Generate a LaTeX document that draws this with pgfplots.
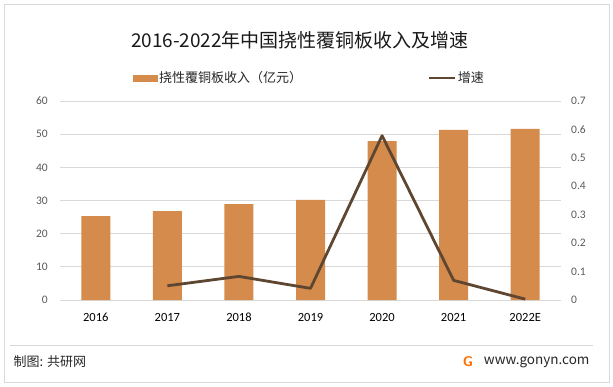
\documentclass[border=0pt]{standalone}
\usepackage{pgfplots}
\pgfplotsset{compat=1.18}
\usepackage{fontspec}
\setmainfont{Carlito}
\newfontfamily\cjk{Noto Sans CJK SC}
\definecolor{barc}{HTML}{D48B4C}
\definecolor{linec}{HTML}{5E4631}
\definecolor{gridc}{HTML}{D9D9D9}
\definecolor{tickc}{HTML}{595959}
\begin{document}
\begin{tikzpicture}[x=1pt,y=1pt]
\path[use as bounding box] (0,0) rectangle (613,386);
\draw[gridc, line width=0.8pt] (4,4) rectangle (609,382);
\node[font=\cjk\fontsize{19}{19}\selectfont, text=black!90, anchor=center] at (300,346) {2016-2022年中国挠性覆铜板收入及增速};
\begin{axis}[
  at={(60pt,86pt)}, anchor=south west, scale only axis, width=501pt, height=199pt,
  xmin=-0.5, xmax=6.5, ymin=0, ymax=60,
  ytick={0,10,20,30,40,50,60}, xtick={0,1,2,3,4,5,6},
  xticklabels={2016,2017,2018,2019,2020,2021,2022E},
  ymajorgrids, grid style={gridc, line width=0.8pt},
  axis line style={draw=none}, tick style={draw=none}, major tick length=0pt,
  /pgf/number format/assume math mode=true,
  yticklabel style={text=tickc, font=\fontsize{11.5}{11.5}\selectfont, inner sep=0pt, anchor=east, xshift=-12pt},
  xticklabel style={text=black, font=\fontsize{12.5}{12.5}\selectfont, inner sep=0pt, anchor=north, yshift=-13pt},
]
\addplot[ybar, bar width=29pt, fill=barc, draw=none] coordinates {(0,25.3)(1,26.8)(2,28.9)(3,30.2)(4,47.9)(5,51.3)(6,51.6)};
\end{axis}
\begin{axis}[
  at={(60pt,86pt)}, anchor=south west, scale only axis, width=501pt, height=199pt,
  xmin=-0.5, xmax=6.5, ymin=0, ymax=0.7,
  ytick={0,0.1,0.2,0.3,0.4,0.5,0.6,0.7},
  axis y line*=right, axis x line=none,
  axis line style={draw=none}, tick style={draw=none}, major tick length=0pt,
  /pgf/number format/assume math mode=true,
  /pgf/number format/fixed, /pgf/number format/precision=1,
  yticklabel style={text=tickc, font=\fontsize{11.5}{11.5}\selectfont, inner sep=0pt, anchor=west, xshift=10pt},
  legend columns=2,
  legend style={at={(0.1457,1.1156)}, anchor=west, draw=none, fill=none, inner sep=0pt,
    font=\cjk\fontsize{13}{13}\selectfont, text=black!85,
    nodes={inner xsep=1.5pt, inner ysep=0pt},
    /tikz/every even column/.append style={column sep=124pt}},
]
\addlegendimage{legend image code/.code={\fill[barc] (0pt,-3pt) rectangle (24pt,3pt);}}
\addlegendentry{挠性覆铜板收入（亿元）}
\addplot[linec, line width=2.8pt, line join=round,
  legend image code/.code={\draw[linec, line width=2.8pt] (0pt,0pt) -- (26pt,0pt);}]
  coordinates {(1,0.050)(2,0.083)(3,0.041)(4,0.578)(5,0.069)(6,0.003)};
\addlegendentry{增速}
\end{axis}
\draw[gridc, line width=0.8pt] (10,40.3) -- (593,40.3);
\node[anchor=west, font=\cjk\fontsize{13}{13}\selectfont, text=black!85] at (10,24) {制图: 共研网};
\node[anchor=east, font=\cjk\fontsize{13.5}{13.5}\selectfont, text=black!85] at (593,24) {www.gonyn.com};
\node[font=\sffamily\bfseries\fontsize{14}{14}\selectfont, text=orange!85!red] at (468,24) {G};
\end{tikzpicture}
\end{document}
